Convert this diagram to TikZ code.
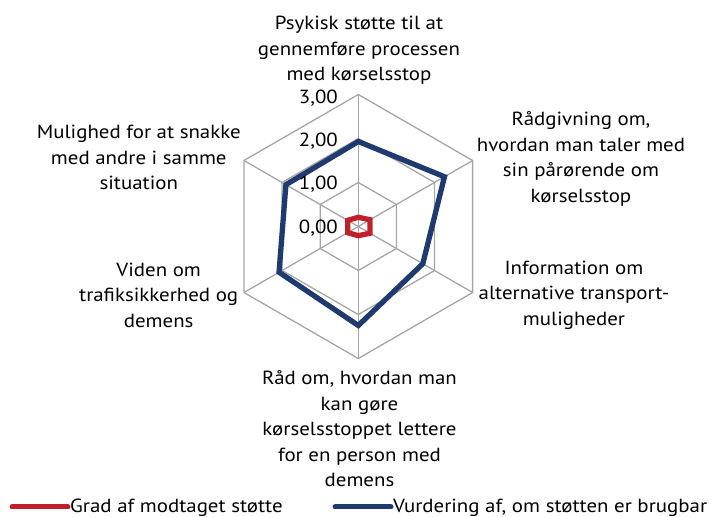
\documentclass[tikz,border=0pt]{standalone}
\usepackage{fontspec}
\setmainfont{PT Sans}[FakeStretch=1.1]
\definecolor{serblue}{HTML}{1F3A6E}
\definecolor{serred}{HTML}{C0202A}
\definecolor{gridgray}{HTML}{A6A6A6}
\begin{document}
\begin{tikzpicture}[x=1pt,y=1pt,
  lbl/.style={align=center,inner sep=0pt,font=\fontsize{19}{25.5}\selectfont},
  tick/.style={anchor=base east,inner sep=0pt,font=\fontsize{19}{22}\selectfont},
  leg/.style={anchor=base west,inner sep=0pt,font=\fontsize{19}{22}\selectfont},
  grid/.style={draw=gridgray,line width=1.3pt},
  series/.style={line width=5.3pt,line join=miter},
  legline/.style={line width=5pt,line cap=round}]
\useasboundingbox (0,0) rectangle (713,517);
\begin{scope}[shift={(358.3,290.5)}]
  \coordinate (c) at (0,0);
  % rings
  \foreach \r in {44,88,132}{
    \draw[grid] (90:\r) -- (30:\r) -- (-30:\r) -- (-90:\r) -- (210:\r) -- (150:\r) -- cycle;
  }
  % spokes
  \foreach \a in {90,30,-30,-90,210,150}{
    \draw[grid] (c) -- (\a:132);
  }
  % red series
  \coordinate (r1) at (90:9.2);
  \coordinate (r2) at (30:13.5);
  \coordinate (r3) at (-30:13.5);
  \coordinate (r4) at (-90:9.2);
  \coordinate (r5) at (210:12.3);
  \coordinate (r6) at (150:12.3);
  \draw[series,serred] (r1) -- (r2) -- (r3) -- (r4) -- (r5) -- (r6) -- cycle;
  % blue series
  \coordinate (b1) at (90:85);
  \coordinate (b2) at (30:99.5);
  \coordinate (b3) at (-30:74.5);
  \coordinate (b4) at (-90:99);
  \coordinate (b5) at (210:91.5);
  \coordinate (b6) at (150:83.6);
  \draw[series,serblue] (b1) -- (b2) -- (b3) -- (b4) -- (b5) -- (b6) -- cycle;
\end{scope}
% tick labels
\node[tick] (t3) at (338,413) {3,00};
\node[tick] (t2) at (338,370) {2,00};
\node[tick] (t1) at (338,327) {1,00};
\node[tick] (t0) at (338,283) {0,00};
% axis labels
\node[lbl] (la) at (359,466.5) {Psykisk støtte til at\\gennemføre processen\\med kørselsstop};
\node[lbl] (lb) at (581,358) {Rådgivning om,\\hvordan man taler med\\sin pårørende om\\kørselsstop};
\node[lbl] (lc) at (574,222) {Information om\\alternative transport-\\muligheder};
\node[lbl] (ld) at (359.5,88) {Råd om, hvordan man\\kan gøre\\kørselsstoppet lettere\\for en person med\\demens};
\node[lbl] (le) at (158.7,222) {Viden om\\trafiksikkerhed og\\demens};
\node[lbl] (lf) at (138.8,359.2) {Mulighed for at snakke\\med andre i samme\\situation};
% legend
\coordinate (lr1) at (12,10);
\coordinate (lr2) at (68,10);
\draw[legline,serred] (lr1) -- (lr2);
\node[leg] (lgr) at (70,4.6) {Grad af modtaget støtte};
\coordinate (lb1) at (335,10);
\coordinate (lb2) at (391,10);
\draw[legline,serblue] (lb1) -- (lb2);
\node[leg] (lgb) at (393,4.6) {Vurdering af, om støtten er brugbar};
\end{tikzpicture}
\end{document}
